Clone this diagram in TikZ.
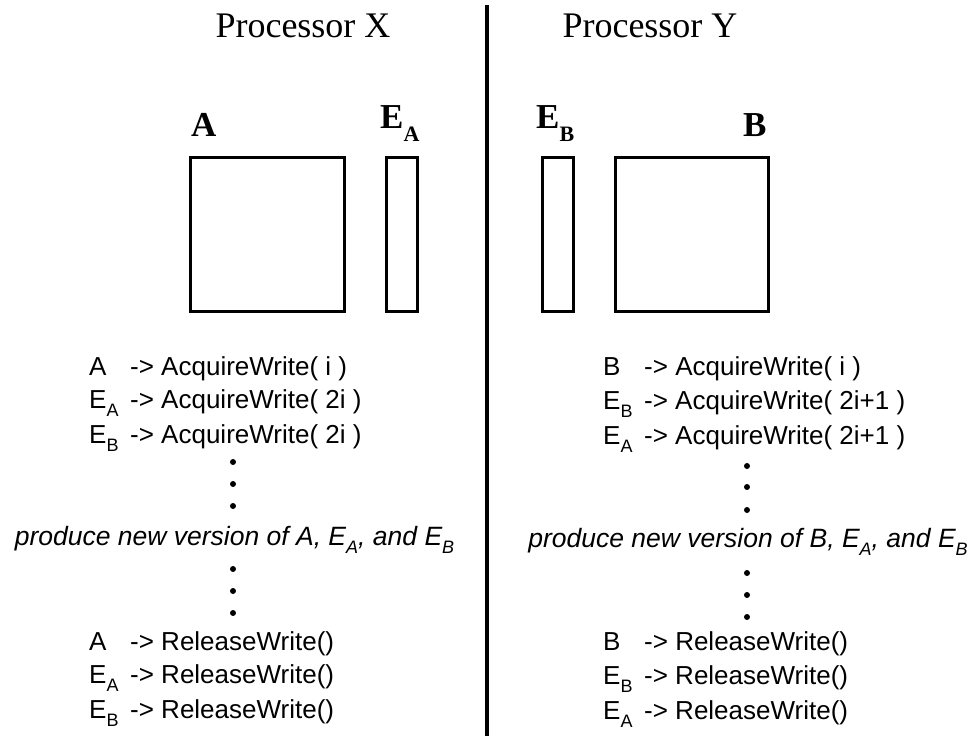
\documentclass[tikz,border=0pt]{standalone}
\usepackage{fontspec}
\setmainfont{Liberation Serif}
\newfontfamily\arialfont{Liberation Sans}
\newcommand\lowsub[1]{\raisebox{-8.5pt}{\fontsize{18}{18}\selectfont #1}}
\newcommand\boldsub[1]{\raisebox{-13pt}{\fontsize{22}{22}\selectfont\bfseries #1}}
\newcommand\pre[1]{\makebox[41pt][l]{#1}}
\begin{document}
\begin{tikzpicture}[x=1pt,y=-1pt,
  title/.style={font=\fontsize{36}{36}\selectfont, anchor=base, inner sep=0pt},
  matlabel/.style={font=\fontsize{35}{35}\selectfont\bfseries, anchor=base west, inner sep=0pt},
  block/.style={draw, line width=3pt, inner sep=0pt, minimum height=154pt},
  codeline/.style={font=\arialfont\fontsize{26}{26}\selectfont, anchor=base west, inner sep=0pt},
  note/.style={font=\arialfont\itshape\fontsize{26.5}{26.5}\selectfont, anchor=base, inner sep=0pt},
  gap/.style={fill=black, circle, inner sep=0pt, minimum size=6pt}]
\useasboundingbox (0,0) rectangle (975,736);

% divider between the two processors
\coordinate (dtop) at (487,5);
\coordinate (dbot) at (487,736);
\draw[line width=4pt] (dtop) -- (dbot);

% headings
\node[title] (px) at (303,37) {Processor X};
\node[title] (py) at (650,37) {Processor Y};

% matrices and their edge buffers
\node[block, minimum width=154pt] (ma) at (267.5,234.5) {};
\node[block, minimum width=31pt] (mea) at (401.5,234.5) {};
\node[block, minimum width=31pt] (meb) at (557.5,234.5) {};
\node[block, minimum width=153pt] (mb) at (691.5,234.5) {};

\node[matlabel] (la) at (191,136) {A};
\node[matlabel] (lea) at (380,128) {E\boldsub{A}};
\node[matlabel] (leb) at (536,128) {E\boldsub{B}};
\node[matlabel] (lb) at (743,136) {B};

% processor X sequence
\node[codeline] (x1) at (89,375) {\pre{A}-> AcquireWrite( i )};
\node[codeline] (x2) at (89,408) {\pre{E\lowsub{A}}-> AcquireWrite( 2i )};
\node[codeline] (x3) at (89,443) {\pre{E\lowsub{B}}-> AcquireWrite( 2i )};
\node[gap] (xd1) at (233,462) {};
\node[gap] (xd2) at (233,484) {};
\node[gap] (xd3) at (233,506) {};
\node[note] (xn) at (234.5,545) {produce new version of A, E\lowsub{A}, and E\lowsub{B}};
\node[gap] (xd4) at (233,569) {};
\node[gap] (xd5) at (233,591) {};
\node[gap] (xd6) at (233,613) {};
\node[codeline] (x4) at (89,650) {\pre{A}-> ReleaseWrite()};
\node[codeline] (x5) at (89,683) {\pre{E\lowsub{A}}-> ReleaseWrite()};
\node[codeline] (x6) at (89,718) {\pre{E\lowsub{B}}-> ReleaseWrite()};

% processor Y sequence
\node[codeline] (y1) at (603,375) {\pre{B}-> AcquireWrite( i )};
\node[codeline] (y2) at (603,409) {\pre{E\lowsub{B}}-> AcquireWrite( 2i+1 )};
\node[codeline] (y3) at (603,444) {\pre{E\lowsub{A}}-> AcquireWrite( 2i+1 )};
\node[gap] (yd1) at (747,466) {};
\node[gap] (yd2) at (747,487) {};
\node[gap] (yd3) at (747,510) {};
\node[note] (yn) at (748,547) {produce new version of B, E\lowsub{A}, and E\lowsub{B}};
\node[gap] (yd4) at (747,573) {};
\node[gap] (yd5) at (747,595) {};
\node[gap] (yd6) at (747,617) {};
\node[codeline] (y4) at (603,650) {\pre{B}-> ReleaseWrite()};
\node[codeline] (y5) at (603,684) {\pre{E\lowsub{B}}-> ReleaseWrite()};
\node[codeline] (y6) at (603,719) {\pre{E\lowsub{A}}-> ReleaseWrite()};
\end{tikzpicture}
\end{document}
